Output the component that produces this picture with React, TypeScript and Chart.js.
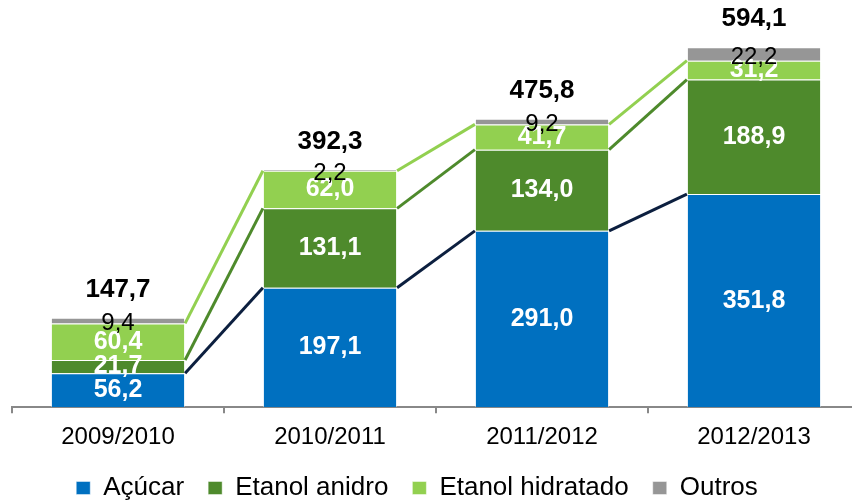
import React, { useEffect, useRef } from "react";
import { Chart, registerables } from "chart.js";

Chart.register(...registerables);

const categories = ["2009/2010", "2010/2011", "2011/2012", "2012/2013"];
const acucar = [56.2, 197.1, 291.0, 351.8];
const etanolAnidro = [21.7, 131.1, 134.0, 188.9];
const etanolHidratado = [60.4, 62.0, 41.7, 31.2];
const outros = [9.4, 2.2, 9.2, 22.2];
const totals = [147.7, 392.3, 475.8, 594.1];
const Y_MAX = 639;

const seriesNames = ["Açúcar", "Etanol anidro", "Etanol hidratado", "Outros"];
const barColors = ["#0070c0", "#4e8a2c", "#92d050", "#969696"];
const lineColors = ["#0c1f3f", "#4e8a2c", "#92d050"];
const FONT = "'Liberation Sans', Arial, sans-serif";

const fmt = (v: number) => v.toFixed(1).replace(".", ",");

const legendShiftPlugin = {
  id: "legendShift",
  afterLayout(chart: any) {
    const l = chart.legend;
    if (!l) return;
    const dx = -19;
    const dy = -6;
    l.left += dx;
    l.right += dx;
    l.top += dy;
    l.bottom += dy;
  },
};

const overlayPlugin = {
  id: "overlay",
  afterDatasetsDraw(chart: any) {
    const ctx = chart.ctx;
    ctx.save();
    for (let d = 0; d < 3; d++) {
      const meta = chart.getDatasetMeta(d);
      ctx.strokeStyle = lineColors[d];
      ctx.lineWidth = 3;
      for (let i = 0; i < meta.data.length - 1; i++) {
        const a = meta.data[i];
        const b = meta.data[i + 1];
        ctx.beginPath();
        ctx.moveTo(a.x + a.width / 2, a.y);
        ctx.lineTo(b.x - b.width / 2, b.y);
        ctx.stroke();
      }
    }
    ctx.textAlign = "center";
    ctx.textBaseline = "middle";
    chart.data.datasets.forEach((ds: any, d: number) => {
      const meta = chart.getDatasetMeta(d);
      meta.data.forEach((el: any, i: number) => {
        const cy = (el.y + el.base) / 2;
        if (d < 3) {
          ctx.fillStyle = "#ffffff";
          ctx.font = `bold 25px ${FONT}`;
          ctx.fillText(fmt(ds.data[i]), el.x, cy);
        } else {
          ctx.fillStyle = "#000000";
          ctx.font = `24px ${FONT}`;
          ctx.fillText(fmt(ds.data[i]), el.x, cy + 3);
        }
      });
    });
    const topMeta = chart.getDatasetMeta(3);
    ctx.fillStyle = "#000000";
    ctx.font = `bold 26px ${FONT}`;
    topMeta.data.forEach((el: any, i: number) => {
      ctx.fillText(fmt(totals[i]), el.x, el.y - 28);
    });
    ctx.restore();
  },
};

export default function App() {
  const ref = useRef<HTMLCanvasElement | null>(null);
  useEffect(() => {
    if (!ref.current) return;
    const data = [acucar, etanolAnidro, etanolHidratado, outros];
    const chart = new Chart(ref.current, {
      type: "bar",
      data: {
        labels: categories,
        datasets: data.map((vals, i) => ({
          label: seriesNames[i],
          data: vals,
          backgroundColor: barColors[i],
          borderColor: "rgba(255,255,255,0.45)",
          borderWidth: 1,
          categoryPercentage: 1,
          barPercentage: 0.633,
        })),
      },
      options: {
        animation: false,
        responsive: false,
        maintainAspectRatio: false,
        layout: { padding: { left: 12, right: 0, top: 20, bottom: 0 } },
        scales: {
          x: {
            stacked: true,
            afterFit: (scale: any) => {
              scale.height -= 4;
            },
            grid: {
              drawOnChartArea: false,
              drawTicks: true,
              tickLength: 6,
              color: "#888888",
              lineWidth: 2,
            },
            border: { color: "#888888", width: 2 },
            ticks: {
              color: "#000000",
              padding: 9.5,
              font: { family: FONT, size: 24 },
              maxRotation: 0,
            },
          },
          y: {
            stacked: true,
            display: false,
            min: 0,
            max: Y_MAX,
          },
        },
        plugins: {
          legend: {
            position: "bottom",
            labels: {
              boxWidth: 14,
              boxHeight: 13,
              padding: 24,
              color: "#000000",
              font: { family: FONT, size: 26 },
            },
          },
          tooltip: { enabled: false },
        },
      },
      plugins: [legendShiftPlugin, overlayPlugin],
    });
    return () => chart.destroy();
  }, []);
  return (
    <div
      style={{
        position: "fixed",
        left: 0,
        top: 0,
        width: 852,
        height: 501,
        overflow: "hidden",
        background: "#ffffff",
      }}
    >
      <canvas ref={ref} width={860} height={517} style={{ display: "block" }} />
    </div>
  );
}
